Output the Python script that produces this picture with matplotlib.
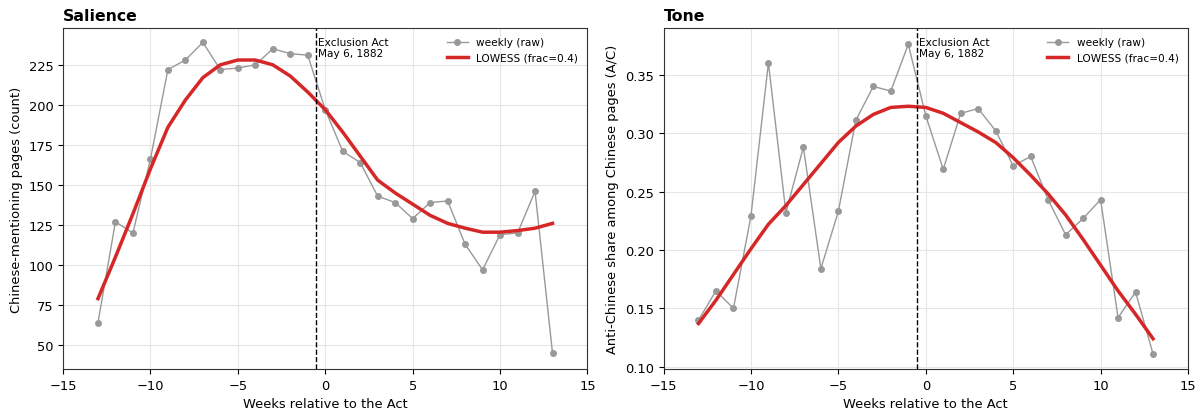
import matplotlib.pyplot as plt

weeks = list(range(-13, 14))

salience_raw = [64, 127, 120, 166, 222, 228, 239, 222, 223, 225, 235, 232, 231,
                197, 171, 164, 143, 139, 129, 139, 140, 113, 97, 119, 120, 146, 45]
salience_smooth = [79, 105, 132, 160, 186, 203, 217, 225, 228, 228, 225, 218, 208,
                   197, 183, 168, 153, 145, 138, 131, 126, 123, 120.5, 120.5, 121.5, 123, 126]

tone_raw = [0.140, 0.165, 0.150, 0.229, 0.360, 0.232, 0.288, 0.184, 0.233, 0.311, 0.340, 0.336, 0.376,
            0.315, 0.269, 0.317, 0.321, 0.302, 0.272, 0.280, 0.243, 0.213, 0.227, 0.243, 0.142, 0.164, 0.111]
tone_smooth = [0.137, 0.157, 0.179, 0.201, 0.222, 0.238, 0.256, 0.274, 0.292, 0.306, 0.316, 0.322, 0.323,
               0.322, 0.317, 0.309, 0.301, 0.292, 0.279, 0.264, 0.248, 0.230, 0.209, 0.187, 0.165, 0.145, 0.124]

act_week = -0.5

plt.rcParams["font.size"] = 9.4
plt.rcParams["axes.edgecolor"] = "#333333"

fig, axes = plt.subplots(1, 2, figsize=(12, 4.14), dpi=100)
fig.subplots_adjust(left=0.0525, right=0.99, top=0.93, bottom=0.106, wspace=0.145)

panels = [
    (axes[0], salience_raw, salience_smooth, "Salience", "Chinese-mentioning pages (count)"),
    (axes[1], tone_raw, tone_smooth, "Tone", "Anti-Chinese share among Chinese pages (A/C)"),
]

for ax, raw, smooth, title, ylabel in panels:
    ax.plot(weeks, raw, color="#999999", marker="o", markersize=4, linewidth=1, label="weekly (raw)")
    ax.plot(weeks, smooth, color="#d62728", linewidth=2.5, label="LOWESS (frac=0.4)")
    ax.axvline(act_week, color="black", linestyle="--", linewidth=1)
    ax.text(act_week + 0.1, 0.975, "Exclusion Act\nMay 6, 1882", transform=ax.get_xaxis_transform(),
            fontsize=7.6, va="top", ha="left")
    ax.set_title(title, loc="left", fontweight="bold", fontsize=11.3)
    ax.set_xlabel("Weeks relative to the Act")
    ax.set_ylabel(ylabel)
    ax.set_xlim(-15, 15)
    ax.grid(True, color="#e6e6e6", linewidth=0.8)
    ax.legend(loc="upper right", fontsize=7.6, frameon=False)

axes[0].set_ylim(35, 248)
axes[1].set_ylim(0.098, 0.39)

plt.savefig("out.png")
